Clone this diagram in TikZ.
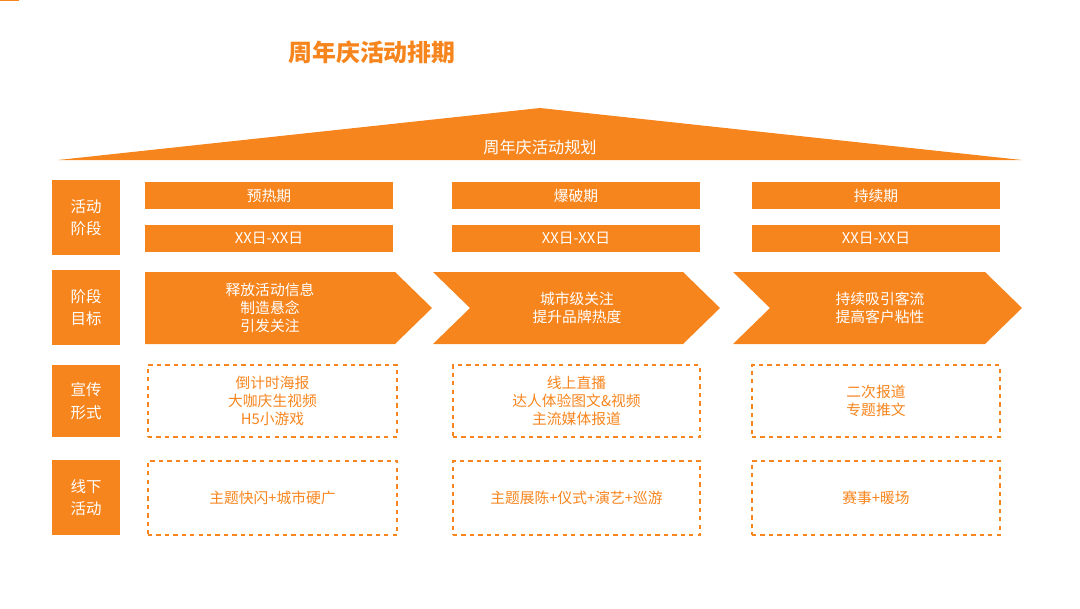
\documentclass[tikz,border=0pt]{standalone}
\usepackage{fontspec}
\setmainfont{Noto Sans CJK SC}
\begin{document}
\begin{tikzpicture}[x=0.025cm,y=-0.025cm]
\definecolor{org}{HTML}{F7851E}
\tikzset{
 lab/.style={fill=org,text=white,font=\fontsize{11}{14}\selectfont,align=center,inner sep=0},
 bar/.style={fill=org,text=white,font=\fontsize{10.5}{13}\selectfont,inner sep=0},
 dbox/.style={draw=org,dashed,thick,text=org,font=\fontsize{10.5}{13}\selectfont,align=center,inner sep=0},
 arr/.style={fill=org,draw=none},
 atext/.style={text=white,font=\fontsize{10.5}{13}\selectfont,align=center}
}
\useasboundingbox (0,0) rectangle (1080,608);
\node[text=org,font=\bfseries\fontsize{17}{20}\selectfont] (title) at (372,52) {周年庆活动排期};
\fill[org] (58,160) -- (540,108) -- (1022,160) -- cycle;
\node[text=white,font=\fontsize{11.5}{14}\selectfont] (roof) at (540,147) {周年庆活动规划};
% left labels
\node[lab,minimum width=68\pgflinewidth] at (0,0) {};
\foreach \n/\ya/\yb/\t in {l1/180/255/{活动\\阶段},l2/270/345/{阶段\\目标},l3/365/437/{宣传\\形式},l4/460/535/{线下\\活动}}{
 \fill[org] (52,\ya) rectangle (120,\yb);
 \node[atext,font=\fontsize{11}{16}\selectfont] (\n) at (86,{(\ya+\yb)/2}) {\t};
}
% stage bars
\foreach \n/\xa/\xb/\t in {s1/145/393/预热期,s2/452/700/爆破期,s3/752/1000/持续期}{
 \fill[org] (\xa,182) rectangle (\xb,209);
 \node[atext] (\n) at ({(\xa+\xb)/2},195.5) {\t};
 \fill[org] (\xa,225) rectangle (\xb,252);
 \node[atext] (\n d) at ({(\xa+\xb)/2},238.5) {XX日-XX日};
}
% arrows
\fill[org] (145,272) -- (395,272) -- (432,308) -- (395,344) -- (145,344) -- cycle;
\fill[org] (433,272) -- (683,272) -- (720,308) -- (683,344) -- (433,344) -- (470,308) -- cycle;
\fill[org] (733,272) -- (985,272) -- (1022,308) -- (985,344) -- (733,344) -- (770,308) -- cycle;
\node[atext] (g1) at (270,308) {释放活动信息\\制造悬念\\引发关注};
\node[atext] (g2) at (577,308) {城市级关注\\提升品牌热度};
\node[atext] (g3) at (880,308) {持续吸引客流\\提高客户粘性};
% dashed boxes
\node[dbox,minimum width=249*0.025cm,minimum height=72*0.025cm] (p1) at (272.5,401) {倒计时海报\\大咖庆生视频\\H5小游戏};
\node[dbox,minimum width=247*0.025cm,minimum height=72*0.025cm] (p2) at (576.5,401) {线上直播\\达人体验图文\&视频\\主流媒体报道};
\node[dbox,minimum width=248*0.025cm,minimum height=72*0.025cm] (p3) at (876,401) {二次报道\\专题推文};
\node[dbox,minimum width=249*0.025cm,minimum height=74*0.025cm] (o1) at (272.5,498) {主题快闪+城市硬广};
\node[dbox,minimum width=247*0.025cm,minimum height=74*0.025cm] (o2) at (576.5,498) {主题展陈+仪式+演艺+巡游};
\node[dbox,minimum width=248*0.025cm,minimum height=74*0.025cm] (o3) at (876,498) {赛事+暖场};
\end{tikzpicture}
\end{document}
